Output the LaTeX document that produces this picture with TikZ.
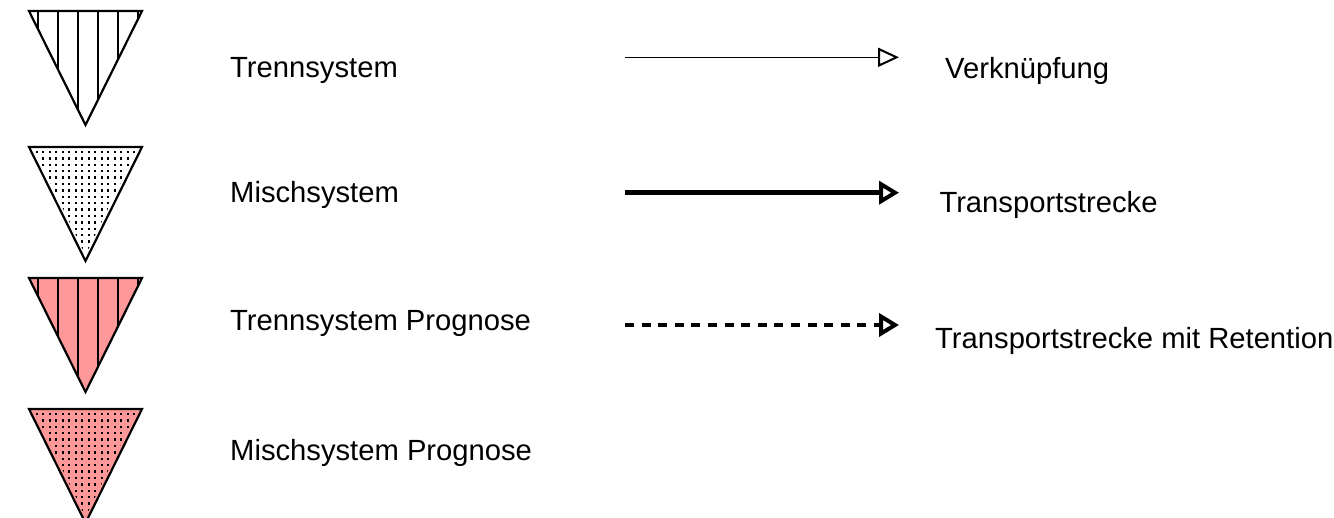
\documentclass[tikz,border=0pt]{standalone}
\usepackage{fontspec}
\setmainfont{Liberation Sans}
\usetikzlibrary{arrows.meta}
\definecolor{prog}{RGB}{255,153,153}
\tikzset{
  lbl/.style={anchor=base west, inner sep=0pt, font=\fontsize{29.2}{34}\selectfont},
  tri/.style={draw=black, line width=2.2pt, line join=miter},
  hatch/.style={draw=black, line width=1.8pt},
  conn/.style={line width=1.6pt, -{Triangle[open, length=21pt, width=19pt, line width=2pt]}},
  connthick/.style={line width=4.5pt, -{Triangle[open, length=20pt, width=23pt, line width=4pt]}},
  conndash/.style={connthick, dash pattern=on 9pt off 7.6pt}
}
\newcommand{\hatchtri}[2]{% top y, fill colour
  \begin{scope}
    \clip (29,#1) -- (142,#1) -- (85.5,#1+114) -- cycle;
    \fill[#2] (29,#1) rectangle (142,#1+114);
    \foreach \xx in {37.7,58.3,78.3,98.3,118.3,138.3}
      \draw[hatch] (\xx,#1) -- (\xx,#1+114);
  \end{scope}
  \draw[tri] (29,#1) -- (142,#1) -- (85.5,#1+114) -- cycle;
}
\newcommand{\dottri}[2]{% top y, fill colour
  \begin{scope}
    \clip (29,#1) -- (142,#1) -- (85.5,#1+114) -- cycle;
    \fill[#2] (29,#1) rectangle (142,#1+114);
    \clip (34,#1+2) -- (137,#1+2) -- (85.5,#1+108) -- cycle;
    \foreach \r in {0,...,16}
      \foreach \c in {0,...,16}
        \fill[black] ({36.7+\c*6.5-1.2},{#1+5+\r*6.4-1.2}) rectangle ++(2.4,2.4);
  \end{scope}
  \draw[tri] (29,#1) -- (142,#1) -- (85.5,#1+114) -- cycle;
}
\begin{document}
\begin{tikzpicture}[x=1pt,y=-1pt]
\useasboundingbox (0,0) rectangle (1334,517);
\begin{scope}
\clip (0,0) rectangle (1334,517);
\hatchtri{11}{white}
\dottri{147}{white}
\hatchtri{278}{prog}
\dottri{409}{prog}
\end{scope}

\node[lbl] (t1) at (230,77.3) {Trennsystem};
\node[lbl] (t2) at (230,202.3) {Mischsystem};
\node[lbl] (t3) at (230,330) {Trennsystem Prognose};
\node[lbl] (t4) at (230,460) {Mischsystem Prognose};

\coordinate (a1s) at (625,57.3);
\coordinate (a1e) at (899,57.3);
\coordinate (a2s) at (625,192.7);
\coordinate (a2e) at (899,192.7);
\coordinate (a3s) at (625,325);
\coordinate (a3e) at (899,325);
\draw[conn] (a1s) -- (a1e);
\draw[connthick] (a2s) -- (a2e);
\draw[conndash] (a3s) -- (a3e);

\node[lbl] (l1) at (945,78.3) {Verknüpfung};
\node[lbl] (l2) at (939.3,212.7) {Transportstrecke};
\node[lbl] (l3) at (935,348.3) {Transportstrecke mit Retention};
\end{tikzpicture}
\end{document}
